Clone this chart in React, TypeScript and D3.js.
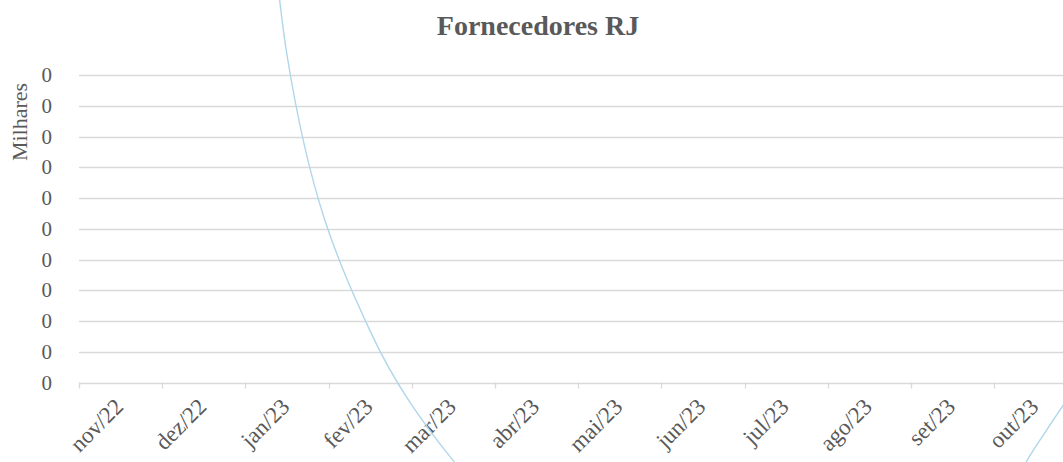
import React from 'react';
import * as d3 from 'd3';

// Categories (the series continues one month past the visible edge)
const categories = [
  'nov/22', 'dez/22', 'jan/23', 'fev/23', 'mar/23', 'abr/23', 'mai/23',
  'jun/23', 'jul/23', 'ago/23', 'set/23', 'out/23', 'nov/23',
];
// Series values (raw units; the axis shows thousands -> "Milhares")
const seriesValues = [612, 1100, 106.5, 16.7, -25.5, -52.5, -77.2, -96.7, -100, -90.2, -64.2, -20.8, 19.2];
// Y-axis tick values (displayed in thousands, so all round to 0)
const yTickValues = [0, 10, 20, 30, 40, 50, 60, 70, 80, 90, 100];

const W = 1063;
const H = 462;
const left = 79;
const bandW = 83.2;
const top = 75;
const bottom = 382.5;
const FONT = '"Liberation Serif", "Times New Roman", serif';
const TEXT = '#595959';
const GRID = '#d9d9d9';

export default function App() {
  const x = d3
    .scaleBand<string>()
    .domain(categories)
    .range([left, left + bandW * categories.length])
    .padding(0);
  const y = d3.scaleLinear().domain([0, 100]).range([bottom, top]);
  const cx = (c: string) => (x(c) as number) + x.bandwidth() / 2;

  const line = d3
    .line<number>()
    .x((_, i) => cx(categories[i]))
    .y((v) => y(v))
    .curve(d3.curveCatmullRom.alpha(0.5));

  const fmt = (v: number) => d3.format('.0f')(v / 1000);
  const xEnd = left + bandW * categories.length;

  return (
    <div style={{ position: 'absolute', left: 0, top: 0, width: W, height: H, background: '#fff' }}>
      <svg width={W} height={H} style={{ display: 'block' }}>
        <rect x={0} y={0} width={W} height={H} fill="#ffffff" />
        <text
          x={538}
          y={35}
          textAnchor="middle"
          fontFamily={FONT}
          fontSize={28}
          fontWeight="bold"
          fill={TEXT}
        >
          Fornecedores RJ
        </text>
        <text
          transform={`translate(27,122) rotate(-90)`}
          textAnchor="middle"
          fontFamily={FONT}
          fontSize={22}
          fill={TEXT}
        >
          Milhares
        </text>
        {yTickValues.map((t) => (
          <g key={t}>
            <line
              x1={left}
              x2={xEnd}
              y1={Math.round(y(t)) + 0.5}
              y2={Math.round(y(t)) + 0.5}
              stroke={GRID}
              strokeWidth={1.3}
            />
            <text
              x={52}
              y={y(t)}
              dy="0.34em"
              textAnchor="end"
              fontFamily={FONT}
              fontSize={21}
              fill={TEXT}
            >
              {fmt(t)}
            </text>
          </g>
        ))}
        {d3.range(categories.length + 1).map((i) => {
          const tx = Math.round(left + i * bandW) + 0.5;
          return (
            <line key={'tk' + i} x1={tx} x2={tx} y1={bottom} y2={bottom + 6} stroke={GRID} strokeWidth={1.3} />
          );
        })}
        {categories
          .filter((c) => cx(c) < W)
          .map((c) => (
            <text
              key={c}
              transform={`translate(${cx(c) + 4},${408}) rotate(-45)`}
              textAnchor="end"
              fontFamily={FONT}
              fontSize={23}
              fill={TEXT}
            >
              {c}
            </text>
          ))}
        <path d={line(seriesValues) || ''} fill="none" stroke="#b0d6ea" strokeWidth={1.4} />
      </svg>
    </div>
  );
}
